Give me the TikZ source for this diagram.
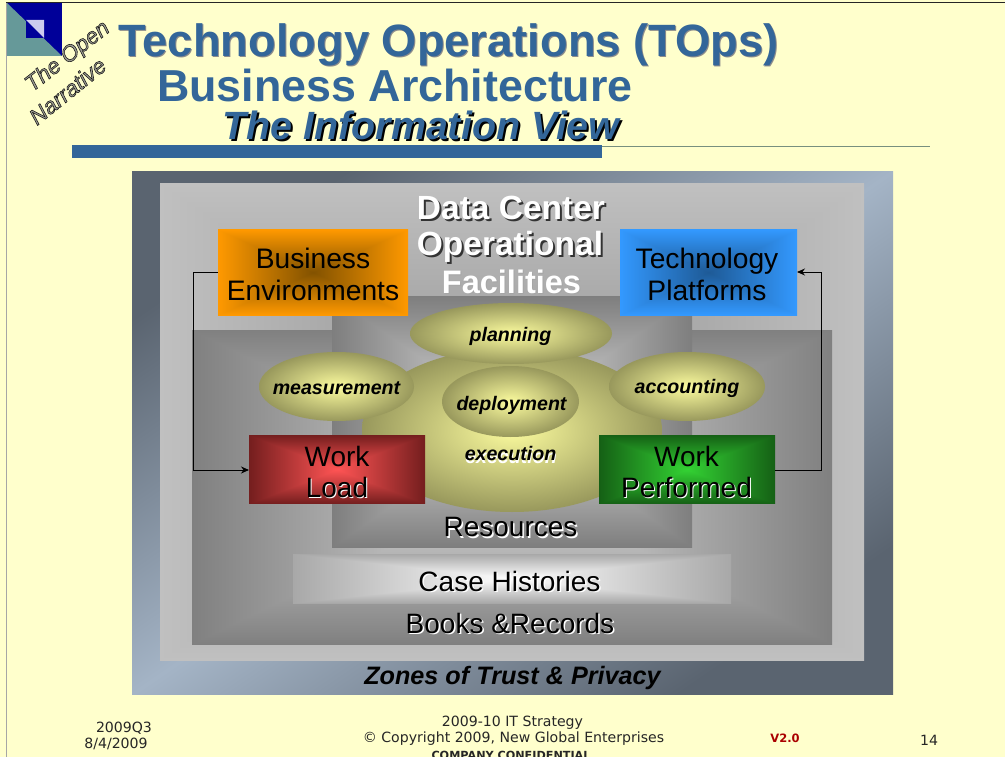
\documentclass[tikz,border=0pt]{standalone}
\usepackage{fontspec}
\setmainfont{Liberation Sans}
\newfontfamily\footfont{DejaVu Sans}
\usetikzlibrary{shapes.geometric,arrows.meta}
\definecolor{pagebg}{HTML}{FFFFCC}
\definecolor{titleblue}{HTML}{336699}
\definecolor{slate}{HTML}{5A6470}
\definecolor{slatelight}{HTML}{A4B4C6}
\definecolor{ellout}{HTML}{98985C}
\definecolor{ellin}{HTML}{FBFB9E}
\definecolor{logoblue}{HTML}{000099}
\definecolor{logoteal}{HTML}{669999}
\definecolor{logolav}{HTML}{CCCCEE}
\definecolor{rulecol}{HTML}{78907E}
\definecolor{verred}{HTML}{AA0000}
\newcommand\boxshade[7]{%
  \pgfmathsetmacro\bsra{#2/255}\pgfmathsetmacro\bsga{#3/255}\pgfmathsetmacro\bsba{#4/255}%
  \pgfmathsetmacro\bsrd{(#5-#2)/255}\pgfmathsetmacro\bsgd{(#6-#3)/255}\pgfmathsetmacro\bsbd{(#7-#4)/255}%
  \edef\bstmp{\noexpand\pgfdeclarefunctionalshading{#1}{\noexpand\pgfpointorigin}{\noexpand\pgfpoint{100bp}{100bp}}{}{%
    50 sub abs exch 50 sub abs 2 copy lt {exch} if pop 25 div 1 exch sub
    dup \bsrd\space mul \bsra\space add exch
    dup \bsgd\space mul \bsga\space add exch
    \bsbd\space mul \bsba\space add}}%
  \bstmp}
% name, edge rgb, centre rgb
\boxshade{frameS}{192}{192}{192}{146}{146}{146}
\boxshade{zoneS}{128}{128}{128}{219}{219}{219}
\boxshade{coreS}{126}{126}{126}{222}{222}{222}
\boxshade{caseS}{168}{168}{168}{255}{255}{255}
\boxshade{orangeS}{255}{153}{0}{130}{82}{0}
\boxshade{blueS}{51}{153}{255}{30}{90}{150}
\boxshade{redS}{116}{30}{30}{255}{84}{84}
\boxshade{greenS}{21}{96}{21}{51}{210}{51}
\newcommand\shtxt[4]{\leavevmode\rlap{\kern#1\raisebox{-#2}{\textcolor{#3}{#4}}}#4}
\newcommand\outl[1]{\special{pdf:code q 2 Tr 0.55 w 0.08 0.08 0.08 RG 0.62 0.62 0.58 rg}#1\special{pdf:code Q}}
\tikzset{
  x=1pt,y=-1pt,
  boxlabel/.style={align=center,inner sep=0,text=black,font=\fontsize{28.2}{32}\selectfont},
  ell/.style={ellipse,inner sep=0,outer sep=0,inner color=ellin,outer color=ellout},
  elltext/.style={inner sep=0,font=\fontsize{19.6}{22}\bfseries\itshape\selectfont},
  conn/.style={draw=black,line width=1pt},
  plain/.style={inner sep=0},
  foot/.style={inner sep=0,font=\footfont\fontsize{14.1}{16}\selectfont,text=black!85},
}
\begin{document}
\begin{tikzpicture}
\useasboundingbox (0,0) rectangle (1005,757);
\clip (0,0) rectangle (1005,757);
\fill[pagebg] (0,0) rectangle (1005,757);
\draw[gray!70,line width=1pt] (6.5,3) -- (6.5,757);
\draw[black!85,line width=1pt] (6,2.5) -- (1005,2.5);
% logo
\fill[logoblue] (7,3) rectangle (62,56);
\fill[logoteal] (7,3) -- (62,56) -- (7,56) -- cycle;
\fill[logoblue] (26,20) rectangle (44,38);
\fill[logolav] (26,20) -- (44,20) -- (44,38) -- cycle;
\node[plain,rotate=38,font=\fontsize{22.5}{24}\itshape\selectfont] (lg1) at (68,57) {\outl{The Open}};
\node[plain,rotate=39,font=\fontsize{22.5}{24}\itshape\selectfont] (lg2) at (67.5,91) {\outl{Narrative}};
% title
\node[plain,font=\fontsize{45.3}{48}\bfseries\selectfont,text=titleblue] (t1) at (448.5,45.5) {\shtxt{1pt}{1pt}{black!45}{Technology Operations (TOps)}};
\node[plain,font=\fontsize{44.8}{48}\bfseries\selectfont,text=titleblue] (t2) at (395,85) {Business Architecture};
\node[plain,font=\fontsize{39.4}{42}\bfseries\itshape\selectfont,text=titleblue] (t3) at (421,126.5) {\shtxt{2pt}{2pt}{black}{The Information View}};
\fill[titleblue] (72,145) rectangle (602,158);
\draw[rulecol,line width=.8pt] (602,146) -- (930,146);
% plates
\shade[shading=axis,top color=slate,bottom color=slate,middle color=slatelight,shading angle=34.5] (132,171.5) rectangle (893,694);
\shade[shading=frameS] (160,183.5) rectangle (864,660);
\shade[shading=zoneS] (192,330) rectangle (832,644);
\shade[shading=coreS] (332,296) rectangle (692,547);
\shade[shading=caseS] (293,554) rectangle (731,603);
% ellipses
\node[ell,minimum width=300pt,minimum height=164pt] (exec) at (512,430) {};
\node[ell,minimum width=202pt,minimum height=61pt] (plan) at (511,333.5) {};
\node[ell,minimum width=155pt,minimum height=69pt] (meas) at (336.5,386.5) {};
\node[ell,minimum width=156pt,minimum height=69pt] (acct) at (687,386.5) {};
\node[ell,minimum width=137pt,minimum height=71pt] (depl) at (510.5,401.5) {};
\node[elltext] (lplan) at (510.5,336) {planning};
\node[elltext] (lmeas) at (336.5,388) {measurement};
\node[elltext] (lacct) at (687,388.5) {accounting};
\node[elltext] (ldepl) at (511.5,405) {deployment};
\node[elltext] (lexec) at (510.5,455) {\shtxt{0.5pt}{3pt}{white}{execution}};
% boxes
\shade[shading=orangeS] (218,229.5) rectangle (408,315);
\shade[shading=blueS] (620,229.5) rectangle (797,315);
\shade[shading=redS] (249,435) rectangle (425,503.7);
\shade[shading=greenS] (599,435) rectangle (775,503.7);
\coordinate (beW) at (218,272);
\coordinate (tpE) at (797,272);
\coordinate (wlW) at (249,470);
\coordinate (wpE) at (775,470);
\node[boxlabel] (be) at (313,274.5) {Business\\Environments};
\node[boxlabel] (tp) at (707,274.5) {Technology\\Platforms};
\node[boxlabel,font=\fontsize{28}{30.5}\selectfont] (wl) at (337,472.5) {Work\\\shtxt{1pt}{1.5pt}{white}{Load}};
\node[boxlabel,font=\fontsize{28}{30.5}\selectfont] (wp) at (686.5,472.5) {Work\\\shtxt{1pt}{1.5pt}{white}{Performed}};
% connectors
\draw[conn,-{Stealth[length=8pt,width=7pt]}] (beW) -- ++(-24.5,0) |- (wlW);
\draw[conn,-{Stealth[length=8pt,width=7pt]}] (wpE) -- ++(46.5,0) |- (tpE);
% zone labels
\node[plain,font=\fontsize{33.5}{36}\bfseries\selectfont,text=white] (dc1) at (511,209) {\shtxt{2pt}{2pt}{black!80}{Data Center}};
\node[plain,font=\fontsize{33.5}{36}\bfseries\selectfont,text=white] (dc2) at (510,248) {\shtxt{2pt}{2pt}{black!80}{Operational}};
\node[plain,font=\fontsize{32.5}{36}\bfseries\selectfont,text=white] (dc3) at (511.5,282) {\shtxt{1pt}{1pt}{black!35}{Facilities}};
\node[plain,font=\fontsize{28}{30}\selectfont] (res) at (510.5,528) {\shtxt{1.5pt}{1.5pt}{white}{Resources}};
\node[plain,font=\fontsize{28}{30}\selectfont] (cas) at (509.5,582) {\shtxt{1.5pt}{1.5pt}{white}{Case Histories}};
\node[plain,font=\fontsize{28}{30}\selectfont] (bok) at (510,624) {\shtxt{1.5pt}{1.5pt}{white}{Books \&Records}};
\node[plain,font=\fontsize{25.2}{28}\bfseries\itshape\selectfont] (zon) at (512.5,677.5) {Zones of Trust \& Privacy};
% footer
\node[foot] (f1) at (124,728) {2009Q3};
\node[foot] (f2) at (116,744) {8/4/2009};
\node[foot] (f3) at (512.5,723) {2009-10 IT Strategy};
\node[foot] (f4) at (513.5,739) {© Copyright 2009, New Global Enterprises};
\node[foot,font=\footfont\bfseries\fontsize{11.2}{12}\selectfont] (f5) at (511,755) {COMPANY CONFIDENTIAL};
\node[foot,font=\footfont\bfseries\fontsize{11.5}{14}\selectfont,text=verred] (f6) at (785,738.5) {V2.0};
\node[foot] (f7) at (929,740.5) {14};
\end{tikzpicture}
\end{document}
